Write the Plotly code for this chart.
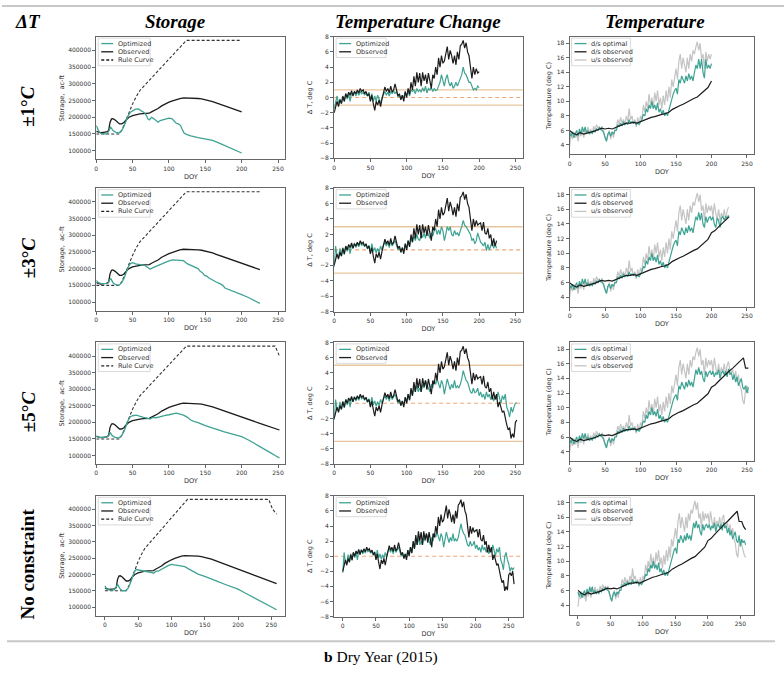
import plotly.graph_objects as go

W, H = 784, 673
TEAL = "#3fa393"
BLACK = "#1c1c1c"
GRAY = "#c4c4c4"
TAN = "#e8c59e"
ORANGE = "#f0a878"

# ---------------- text ----------------
col_titles = ["Storage", "Temperature Change", "Temperature"]
row_labels = ["±1°<i>C</i>", "±3°<i>C</i>", "±5°<i>C</i>", "No constraint"]
y_titles = ["Storage,  ac-ft", "Δ T, deg C", "Temperature (deg C)"]
caption = "<b>b</b> Dry Year (2015)"
row_end_doy = [200, 225, 252, 258]
dT_limits = [1, 3, 5, None]

# ---------------- storage (ac-ft) ----------------
stor_obs_doy = [0, 3, 6, 10, 14, 17, 19, 21, 23, 26, 29, 32, 35, 38, 41, 45, 50, 55, 60, 65,
                70, 73, 76, 80, 85, 90, 95, 100, 105, 110, 115, 120, 125, 130, 135, 140, 145, 150, 155, 160,
                165, 170, 175, 180, 185, 190, 195, 200, 205, 210, 215, 220, 225, 230, 235, 240, 245, 252, 258]
stor_obs = [158000, 155000, 154000, 155000, 156000, 160000, 185000, 195000, 196000, 192000,
            185000, 180000, 180000, 184000, 192000, 200000, 205000, 208000, 210000, 211000,
            212000, 212000, 216000, 220000, 226000, 234000, 240000, 245000, 249000, 253000,
            256000, 258000, 258000, 257000, 256000, 256000, 255000, 253000, 250000, 247000,
            243000, 239000, 235000, 231000, 227000, 223000, 219000, 216000, 212000, 208000,
            204500, 201000, 197000, 193500, 190000, 186000, 182500, 177000, 172000]

rule_doy = [0, 32, 36, 40, 45, 50, 55, 60, 124, 200, 225, 246, 252, 258]
rule_curve = [150000, 150000, 165000, 188000, 215000, 240000, 262000, 280000, 430000,
              430000, 430000, 430000, 400000, 385000]

stor_opt_r1_doy = [0, 3, 6, 10, 15, 18, 20, 23, 27, 31, 35, 38, 41, 44, 47, 50, 54, 58, 61, 64,
                   67, 69, 71, 73, 76, 79, 82, 85, 88, 92, 96, 100, 104, 107, 110, 113, 116, 118, 121, 125,
                   130, 140, 150, 160, 170, 180, 190, 200]
stor_opt_r1 = [175000, 160000, 152000, 150000, 150000, 160000, 170000, 160000, 155000, 153000,
               160000, 172000, 190000, 205000, 215000, 220000, 224000, 225000, 220000, 216000,
               212000, 205000, 195000, 192000, 200000, 196000, 190000, 185000, 190000, 193000,
               195000, 197000, 196000, 190000, 182000, 180000, 175000, 165000, 152000, 148000,
               144000, 139000, 136000, 131000, 122000, 113000, 103000, 93000]

stor_opt_r2_doy = [0, 3, 7, 12, 16, 18, 20, 23, 27, 31, 35, 38, 41, 44, 47, 50, 54, 58, 62, 66,
                   70, 74, 78, 82, 86, 90, 95, 100, 105, 110, 115, 120, 125, 130, 135, 140, 143, 146, 149, 152,
                   155, 160, 165, 170, 174, 177, 182, 190, 200, 210, 218, 225]
stor_opt_r2 = [165000, 158000, 155000, 155000, 156000, 165000, 170000, 158000, 152000, 150000,
               158000, 170000, 188000, 205000, 215000, 218000, 214000, 213000, 213000, 210000,
               205000, 198000, 203000, 207000, 210000, 214000, 219000, 223000, 226000, 225000,
               224000, 224000, 215000, 210000, 205000, 200000, 192000, 188000, 180000, 178000,
               172000, 165000, 160000, 155000, 150000, 142000, 138000, 131000, 122000, 113000,
               104000, 96000]

stor_opt_r3_doy = [0, 3, 8, 14, 17, 19, 22, 26, 31, 35, 38, 41, 44, 47, 50, 55, 60, 65, 70, 74,
                   78, 82, 86, 90, 95, 100, 105, 110, 115, 120, 125, 130, 135, 140, 150, 160, 170, 175, 180, 190,
                   200, 210, 220, 230, 240, 246, 252]
stor_opt_r3 = [160000, 155000, 155000, 155000, 160000, 170000, 160000, 155000, 153000, 160000,
               172000, 190000, 207000, 217000, 220000, 222000, 218000, 215000, 213000, 210000,
               215000, 214000, 216000, 219000, 221000, 223000, 226000, 228000, 225000, 222000,
               216000, 207000, 202000, 199000, 190000, 184000, 176000, 172000, 169000, 163000,
               157000, 146000, 134000, 121000, 108000, 100000, 93000]

stor_opt_r4_doy = [0, 3, 8, 14, 17, 19, 22, 26, 31, 35, 38, 41, 44, 47, 50, 55, 60, 65, 70, 73,
                   77, 80, 85, 90, 95, 100, 105, 110, 115, 120, 125, 130, 135, 140, 150, 160, 170, 180, 190, 200,
                   210, 220, 230, 240, 250, 258]
stor_opt_r4 = [165000, 155000, 152000, 153000, 162000, 170000, 158000, 150000, 150000, 158000,
               172000, 190000, 207000, 215000, 214000, 211000, 210000, 209000, 206000, 204000,
               210000, 210000, 216000, 222000, 227000, 231000, 229000, 227000, 226000, 224000,
               218000, 212000, 206000, 201000, 194000, 187000, 178000, 170000, 163000, 155000,
               144000, 133000, 122000, 111000, 100000, 92000]

# ---------------- temperature change (deg C), sampled every 2 days ----------------
dT_obs = [-2.0, -1.0, -0.5, -1.2, -0.3, -0.8, 0.2, -0.5, 0.5, 0.0,
          0.7, 0.3, 0.9, 0.2, 0.8, 0.5, 1.0, 0.6, 1.2, 0.8,
          1.0, 0.5, 0.8, 0.2, 0.5, -0.5, 0.3, -0.8, -1.7, -0.5,
          -1.0, -0.3, -1.2, -0.2, 0.5, 1.4, 0.8, 1.2, 0.6, 1.5,
          0.7, 1.0, 1.8, 1.0, 0.2, 0.5, -0.3, 0.3, -0.5, 0.8,
          0.0, 1.2, 0.4, 2.0, 1.0, 2.8, 1.5, 3.3, 2.0, 3.2,
          1.5, 3.3, 2.2, 3.0, 1.8, 3.2, 2.0, 1.2, 3.0, 2.5,
          4.0, 3.0, 5.2, 4.0, 5.5, 4.5, 4.8, 6.0, 6.7, 5.0,
          6.2, 5.5, 4.5, 5.5, 4.3, 6.0, 5.0, 6.8, 7.0, 7.5,
          6.5, 7.2, 6.0, 5.5, 4.2, 2.5, 4.0, 3.0, 3.8, 3.2,
          3.4, 3.5, 2.5, 3.6, 2.2, 2.0, 2.8, 1.5, 2.0, 0.5,
          1.5, 0.5, 1.2, -0.5, 0.2, -0.5, -1.2, -1.0, -2.2, -2.8,
          -3.5, -3.2, -4.6, -4.0, -4.5, -2.5, -2.2, -2.6, -2.0, -3.7]

dT_opt_r1 = [-1.5, -0.5, 0.2, -0.8, -0.2, -0.8, 0.0, -0.5, 0.5, -0.2,
             0.5, -0.5, 0.6, 0.3, 0.8, 0.2, 0.8, 0.3, 0.8, 0.5,
             0.7, 0.3, 0.6, 0.2, 0.7, -0.3, 0.5, -0.5, 0.2, -0.5,
             0.3, -0.2, -0.8, 0.0, 0.5, 0.8, 0.3, 0.7, 0.2, 0.8,
             0.5, 0.9, 0.5, 0.8, 0.1, 0.3, -0.2, 0.3, 0.0, 0.6,
             0.3, 0.8, 0.2, 1.0, 0.8, 1.0, 0.5, 1.2, 0.8, 1.0,
             0.7, 1.3, 0.8, 1.5, 0.6, 1.2, 1.0, 1.3, 0.8, 1.2,
             0.9, 1.0, 1.5, 2.0, 3.0, 2.0, 1.5, 2.5, 3.0, 2.0,
             1.5, 2.0, 1.2, 1.5, 2.0, 1.5, 2.0, 2.5, 3.0, 4.0,
             3.2, 3.0, 2.5, 2.0, 2.0, 1.5, 1.0, 1.2, 1.0, 1.5,
             1.3]

dT_opt_early = [-2.2, 0.5, -0.8, -1.0, 0.2, -0.8, 0.3, -0.6, 0.5, -0.2,
                0.6, -0.5, 0.8, 0.2, 0.9, 0.3, 0.8, 0.4, 1.0, 0.6,
                0.8, 0.4, 0.7, 0.1, 0.6, -0.3, 0.8, -0.2, 0.3, -0.4,
                0.2, -0.3, 0.5, 0.0, 0.6, 1.0, 0.5, 1.0, 0.3, 1.2,
                0.5, 0.9, 1.2, 0.6, 0.0, 0.4, -0.3, 0.3, -0.2, 0.8,
                0.2, 1.2, 0.5]
dT_opt_r2_late = [1.5, 1.0, 1.8, 1.2, 2.0, 1.4, 1.2, 2.0, 1.6, 2.2,
                  1.5, 2.5, 2.0, 1.5, 2.2, 1.8, 2.5, 2.8, 2.0, 2.6,
                  2.0, 3.0, 2.5, 1.2, 2.0, 3.0, 2.5, 3.0, 2.0, 1.8,
                  2.5, 2.0, 2.2, 1.8, 2.5, 3.0, 3.8, 3.2, 3.0, 2.6,
                  2.4, 2.0, 1.2, 1.5, 0.8, 1.2, 2.2, 1.5, 1.0, 0.8,
                  0.5, 1.0, -0.1, 0.7, 0.0, 0.5, 1.2, 0.2, 0.8, 0.2]
dT_opt_r3_late = [1.5, 1.0, 2.2, 1.5, 2.5, 1.5, 2.0, 1.5, 2.5, 2.0,
                  3.0, 2.5, 2.0, 1.5, 2.5, 2.0, 3.0, 2.5, 3.2, 2.5,
                  2.0, 3.0, 2.5, 1.2, 2.5, 3.2, 2.5, 1.8, 2.5, 2.0,
                  3.0, 2.0, 2.3, 2.0, 2.5, 3.2, 4.3, 3.5, 3.0, 2.8,
                  2.0, 1.5, 1.3, 2.0, 1.4, 1.5, 2.0, 1.0, 1.5, 0.8,
                  1.2, 0.5, 1.5, 0.8, 1.2, 0.5, 1.0, 0.3, 1.0, 0.5,
                  1.5, 0.8, 0.0, 1.0, 0.5, 1.2, -0.5, -1.0, -1.8, -0.5,
                  -1.2, -0.5, 0.0, 0.1]
dT_opt_r4_late = [1.5, 1.0, 2.2, 1.5, 2.5, 1.5, 2.0, 1.5, 2.5, 2.0,
                  3.0, 2.5, 2.0, 1.5, 2.5, 2.0, 3.0, 2.5, 3.2, 2.5,
                  2.0, 3.0, 2.5, 1.2, 2.5, 3.2, 2.5, 1.8, 2.5, 2.0,
                  3.0, 2.0, 2.3, 2.0, 2.5, 3.2, 4.3, 3.5, 3.0, 2.8,
                  2.0, 1.5, 1.3, 2.0, 1.4, 1.5, 2.0, 1.0, 1.5, 0.8,
                  1.2, 0.5, 1.5, 0.8, 1.2, 0.5, 1.0, 0.3, 1.0, 0.5,
                  1.5, 0.8, 0.0, 1.0, 0.5, 1.2, -0.5, -1.0, -1.8, 0.0,
                  0.5, -0.5, -1.0, -2.0, -1.5, -1.8, -1.5]

# ---------------- temperature (deg C) ----------------
ds_obs_doy = [0, 5, 10, 15, 20, 25, 30, 35, 40, 45, 50, 55, 60, 65, 70, 75, 80, 85, 90, 95,
              100, 105, 110, 115, 120, 125, 130, 135, 140, 145, 150, 155, 160, 165, 170, 175, 180, 185, 190, 195,
              200, 205, 210, 215, 220, 225, 230, 235, 240, 245, 248, 252, 255, 258]
ds_obs = [6.0, 5.6, 5.4, 5.7, 5.5, 5.6, 5.7, 5.9, 6.1, 6.3,
          6.2, 6.3, 6.2, 6.4, 6.6, 6.9, 7.0, 7.0, 7.1, 7.0,
          7.2, 7.4, 7.7, 7.8, 7.9, 8.1, 8.2, 8.3, 8.5, 8.9,
          9.2, 9.4, 9.6, 9.9, 10.1, 10.4, 10.6, 11.0, 11.4, 11.9,
          12.8, 13.1, 13.6, 14.1, 14.5, 15.0, 15.4, 15.9, 16.3, 16.8,
          15.4, 15.4, 14.7, 14.3]

us_obs = [3.8, 5.5, 4.8, 5.8, 5.0, 5.5, 4.5, 5.8, 5.2, 6.0,
          5.0, 6.3, 5.5, 6.5, 5.6, 6.2, 5.5, 6.6, 6.0, 6.8,
          6.3, 6.5, 6.0, 6.6, 5.5, 5.2, 4.6, 5.5, 6.0, 4.8,
          5.8, 5.0, 6.2, 6.5, 7.5, 6.8, 7.8, 7.0, 7.5, 6.8,
          8.0, 7.2, 9.0, 7.5, 8.0, 7.0, 7.5, 6.5, 7.8, 6.8,
          8.0, 7.5, 9.5, 8.5, 10.0, 9.0, 11.0, 9.5, 10.5, 9.0,
          11.2, 10.0, 11.5, 9.5, 10.5, 9.0, 10.8, 9.5, 11.5, 10.0,
          12.0, 10.5, 13.0, 12.0, 13.5, 14.5, 13.0, 15.5, 16.5, 14.5,
          16.0, 15.0, 14.0, 16.0, 14.5, 16.5, 15.5, 17.0, 16.5, 17.5,
          18.2, 17.0, 18.0, 15.8, 16.5, 14.5, 16.8, 15.5, 16.5, 15.8,
          16.5, 15.0, 16.8, 15.5, 14.5, 16.0, 14.5, 15.5, 14.8, 16.0,
          14.5, 15.8, 16.3, 15.0, 14.8, 15.2, 14.0, 15.0, 13.5, 14.5,
          13.0, 12.5, 11.0, 10.5, 12.5, 13.0, 12.0, 11.5, 10.8, 10.5]

ds_opt_early = [5.8, 5.2, 5.8, 5.0, 5.5, 6.0, 5.2, 6.2, 5.5, 6.5,
                5.8, 6.5, 5.6, 6.0, 5.5, 5.8, 5.6, 6.0, 5.8, 6.2,
                6.0, 6.4, 6.2, 6.0, 5.8, 5.0, 4.5, 5.5, 5.8, 5.2,
                5.8, 5.5, 6.0, 6.0, 6.8, 6.5, 7.0, 6.6, 7.2, 6.8,
                7.0, 6.8, 7.5, 7.0, 7.2, 7.0, 7.2, 6.8, 7.0, 6.8,
                7.2, 7.5, 8.2, 8.0, 9.0, 8.5, 9.5, 9.0, 10.0, 9.0,
                9.5, 8.8, 9.8, 8.5, 9.0, 8.2, 8.8, 8.0, 8.5, 8.0]
ds_opt_r1_late = [8.8, 9.5, 10.5, 11.0, 11.5, 11.8, 11.0, 13.0, 12.5, 13.5,
                  13.0, 12.5, 13.5, 12.8, 13.8, 13.0, 13.5, 12.8, 14.0, 15.0,
                  14.5, 15.8, 14.5, 15.8, 14.0, 13.2, 15.8, 14.5, 15.0, 14.5,
                  15.2]
ds_opt_r2_late = [8.8, 9.5, 10.5, 11.0, 11.5, 11.8, 11.0, 13.0, 12.5, 13.5,
                  13.0, 12.5, 13.5, 12.8, 13.8, 13.0, 13.5, 12.8, 14.0, 15.0,
                  14.5, 15.6, 14.5, 15.5, 14.0, 13.5, 15.0, 14.2, 14.8, 15.0,
                  14.5, 15.0, 14.0, 13.5, 14.8, 14.5, 13.5, 14.8, 15.0, 14.5,
                  15.0, 14.8, 15.2]
ds_opt_r3_late = [8.8, 9.5, 10.5, 11.0, 11.5, 11.8, 11.0, 13.0, 12.5, 13.5,
                  13.0, 12.5, 13.5, 12.8, 13.8, 13.0, 13.5, 12.8, 14.0, 15.2,
                  14.5, 15.5, 14.5, 15.0, 14.0, 13.5, 15.0, 14.2, 14.8, 15.0,
                  14.5, 15.0, 14.2, 14.8, 14.5, 15.2, 14.0, 14.8, 15.0, 14.5,
                  15.0, 14.2, 15.3, 14.5, 14.8, 13.8, 14.5, 13.5, 14.2, 13.0,
                  13.5, 14.0, 12.8, 12.5, 13.0, 12.0, 12.8]
ds_opt_r4_late = [8.8, 9.5, 10.5, 11.0, 11.5, 11.8, 11.0, 13.0, 12.5, 13.5,
                  13.0, 12.5, 13.5, 12.8, 13.8, 13.0, 13.5, 12.8, 14.0, 15.2,
                  14.5, 15.5, 14.5, 15.0, 14.0, 13.5, 15.0, 14.2, 14.8, 15.0,
                  14.5, 15.0, 14.2, 14.8, 14.5, 15.2, 14.0, 14.8, 15.0, 14.5,
                  15.0, 14.2, 15.3, 14.5, 14.8, 13.8, 14.5, 13.5, 14.2, 13.0,
                  13.5, 14.0, 12.8, 12.5, 13.5, 12.0, 13.0, 12.5, 12.8, 12.2]

doy2 = list(range(0, 259, 2))

stor_opt = [(stor_opt_r1_doy, stor_opt_r1), (stor_opt_r2_doy, stor_opt_r2),
            (stor_opt_r3_doy, stor_opt_r3), (stor_opt_r4_doy, stor_opt_r4)]
dT_opt = [dT_opt_r1, dT_opt_early + dT_opt_r2_late,
          dT_opt_early + dT_opt_r3_late, dT_opt_early + dT_opt_r4_late]
ds_opt = [ds_opt_early + ds_opt_r1_late, ds_opt_early + ds_opt_r2_late,
          ds_opt_early + ds_opt_r3_late, ds_opt_early + ds_opt_r4_late]

# ---------------- layout geometry (pixels) ----------------
col_lr = [(94.5, 284.0), (333.0, 522.0), (569.0, 754.0)]
row_tb = [[(33, 157), (33, 156), (33, 152)],
          [(186, 310), (186, 311), (186, 306)],
          [(342, 465), (342, 465), (342, 462)],
          [(497, 618), (497, 619), (497, 617)]]

def px(xp):
    return xp / W

def py(yp):
    return 1 - yp / H

def upto(xs, ys, end):
    pts = [(a, b) for a, b in zip(xs, ys) if a <= end]
    return [p[0] for p in pts], [p[1] for p in pts]

fig = go.Figure()
annotations = []
shapes = []

tickfont = dict(family="DejaVu Sans", size=6, color="#333")
titlefont = dict(family="DejaVu Sans", size=6.5, color="#333")


def add_line(k, x, y, color, width=1.2, dash="solid"):
    fig.add_trace(go.Scatter(
        x=x, y=y, mode="lines", showlegend=False, hoverinfo="skip",
        line=dict(color=color, width=width, dash=dash),
        xaxis="x" if k == 1 else f"x{k}", yaxis="y" if k == 1 else f"y{k}"))


def add_legend(left, top, width, entries):
    n = len(entries)
    bx, by = left + 2, top + 1.5
    bh = n * 8.3 + 3
    shapes.append(dict(type="rect", xref="paper", yref="paper",
                       x0=px(bx), x1=px(bx + width), y0=py(by), y1=py(by + bh),
                       line=dict(color="#d0d0d0", width=0.8), fillcolor="white", layer="above"))
    for i, (label, color, dash) in enumerate(entries):
        yy = by + 5.5 + i * 8.3
        shapes.append(dict(type="line", xref="paper", yref="paper",
                           x0=px(bx + 3), x1=px(bx + 15), y0=py(yy), y1=py(yy),
                           line=dict(color=color, width=1.3, dash=dash), layer="above"))
        annotations.append(dict(text=label, x=px(bx + 18), y=py(yy), xref="paper", yref="paper",
                                xanchor="left", yanchor="middle", showarrow=False,
                                font=dict(family="DejaVu Sans", size=6.5, color="#333")))


for r in range(4):
    end = row_end_doy[r]
    for c in range(3):
        k = r * 3 + c + 1
        left, right = col_lr[c]
        top, bot = row_tb[r][c]
        xr = [-13, 271] if r == 3 else [0, 260]
        if c == 0:
            yr, ydt = [74000, 441000], dict(tickvals=[100000, 150000, 200000, 250000, 300000, 350000, 400000],
                                            tickformat="d")
            ystand = 2
        elif c == 1:
            yr, ydt = [-8, 8], dict(tickvals=[-8, -6, -4, -2, 0, 2, 4, 6, 8])
            ystand = 6
        else:
            yr, ydt = [2.7, 18.9], dict(tickvals=[4, 6, 8, 10, 12, 14, 16, 18])
            ystand = 4
        common = dict(showline=True, linecolor="#666", linewidth=1, mirror=True,
                      ticks="outside", ticklen=3, tickcolor="#666", tickwidth=0.8,
                      tickfont=tickfont, showgrid=False, zeroline=False)
        xa = dict(domain=[px(left), px(right)], anchor="y" if k == 1 else f"y{k}", range=xr,
                  tickvals=[0, 50, 100, 150, 200, 250],
                  title=dict(text="DOY", font=titlefont, standoff=3), **common)
        ya = dict(domain=[py(bot), py(top)], anchor="x" if k == 1 else f"x{k}", range=yr,
                  title=dict(text=y_titles[c], font=titlefont, standoff=ystand), **ydt, **common)
        fig.update_layout({("xaxis" if k == 1 else f"xaxis{k}"): xa,
                           ("yaxis" if k == 1 else f"yaxis{k}"): ya})
        xd = "x domain" if k == 1 else f"x{k} domain"
        yd = "y" if k == 1 else f"y{k}"

        if c == 0:
            rx, ry = upto(rule_doy, rule_curve, end)
            add_line(k, rx, ry, "#333", width=1.1, dash="3px,2px")
            ox, oy = upto(stor_obs_doy, stor_obs, end)
            add_line(k, ox, oy, BLACK, width=1.3)
            add_line(k, stor_opt[r][0], stor_opt[r][1], TEAL, width=1.3)
            add_legend(left, top, 52, [("Optimized", TEAL, "solid"), ("Observed", BLACK, "solid"),
                                       ("Rule Curve", BLACK, "3px,2px")])
        elif c == 1:
            lim = dT_limits[r]
            if lim is not None:
                for v in (lim, -lim):
                    shapes.append(dict(type="line", xref=xd, yref=yd, x0=0, x1=1, y0=v, y1=v,
                                       line=dict(color=TAN, width=1.3), layer="below"))
            shapes.append(dict(type="line", xref=xd, yref=yd, x0=0, x1=1, y0=0, y1=0,
                               line=dict(color=ORANGE, width=1.1, dash="4px,3px"), layer="below"))
            ox, oy = upto(doy2, dT_obs, end)
            add_line(k, doy2[:len(dT_opt[r])], dT_opt[r], TEAL, width=1.2)
            add_line(k, ox, oy, BLACK, width=1.2)
            add_legend(left, top, 50, [("Optimized", TEAL, "solid"), ("Observed", BLACK, "solid")])
        else:
            ux, uy = upto(doy2, us_obs, end)
            add_line(k, ux, uy, GRAY, width=1.2)
            add_line(k, doy2[:len(ds_opt[r])], ds_opt[r], TEAL, width=1.2)
            dx, dy = upto(ds_obs_doy, ds_obs, end)
            add_line(k, dx, dy, BLACK, width=1.2)
            add_legend(left, top, 59, [("d/s optimal", TEAL, "solid"), ("d/s observed", BLACK, "solid"),
                                       ("u/s observed", GRAY, "solid")])

# headers
serif = "Liberation Serif, Times New Roman, serif"
annotations.append(dict(text="<b><i>ΔT</i></b>", x=px(26), y=py(18), xref="paper", yref="paper",
                        xanchor="center", yanchor="middle",
                        showarrow=False, font=dict(family=serif, size=19, color="black")))
for t, cx in zip(col_titles, [174, 417, 655]):
    annotations.append(dict(text=f"<b><i>{t}</i></b>", x=px(cx), y=py(18), xref="paper", yref="paper",
                            xanchor="center", yanchor="middle",
                            showarrow=False, font=dict(family=serif, size=19, color="black")))
for r, lab in enumerate(row_labels):
    top, bot = row_tb[r][0]
    annotations.append(dict(text=f"<b>{lab}</b>", x=px(26), y=py((top + bot) / 2 + 8),
                            xref="paper", yref="paper", showarrow=False, textangle=-90,
                            xanchor="center", yanchor="middle",
                            font=dict(family=serif, size=19, color="black")))
annotations.append(dict(text=caption, x=px(380), y=py(660), xref="paper", yref="paper",
                        xanchor="center", yanchor="middle",
                        showarrow=False, font=dict(family=serif, size=15.5, color="black")))

shapes.append(dict(type="line", xref="paper", yref="paper", x0=0, x1=1, y0=py(2), y1=py(2),
                   line=dict(color="#c8c8c8", width=2)))
shapes.append(dict(type="line", xref="paper", yref="paper", x0=px(5), x1=px(775), y0=py(644), y1=py(644),
                   line=dict(color="#c8c8c8", width=2)))

fig.update_layout(width=W, height=H, margin=dict(l=0, r=0, t=0, b=0),
                  paper_bgcolor="white", plot_bgcolor="white",
                  showlegend=False, annotations=annotations, shapes=shapes)

fig.write_html("out.html")
